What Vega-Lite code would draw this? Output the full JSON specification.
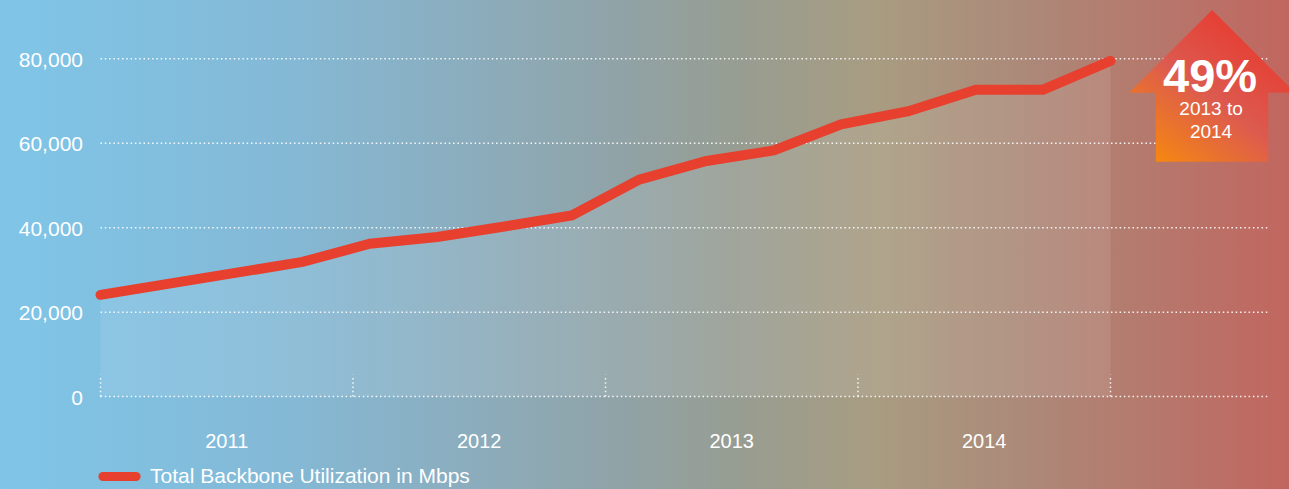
{
  "$schema": "https://vega.github.io/schema/vega-lite/v6.json",
  "width": 1289,
  "height": 489,
  "autosize": "none",
  "padding": 0,
  "background": "#a39c8c",
  "config": {
    "font": "Liberation Sans",
    "view": {
      "stroke": null,
      "fill": {
        "gradient": "linear", "x1": 0, "y1": 0, "x2": 1, "y2": 0,
        "stops": [
          {"offset": 0, "color": "#7fc5e8"},
          {"offset": 0.22, "color": "#84b9d6"},
          {"offset": 0.36, "color": "#8badbe"},
          {"offset": 0.48, "color": "#90a3a7"},
          {"offset": 0.57, "color": "#979d92"},
          {"offset": 0.68, "color": "#a89c81"},
          {"offset": 0.8, "color": "#ac8878"},
          {"offset": 1, "color": "#c1665f"}
        ]
      }
    }
  },
  "datasets": {
    "usage": [
      {"i": 0, "period": "2011 Q1", "mbps": 24100},
      {"i": 1, "period": "2011 Q2", "mbps": 26700},
      {"i": 2, "period": "2011 Q3", "mbps": 29300},
      {"i": 3, "period": "2011 Q4", "mbps": 31900},
      {"i": 4, "period": "2012 Q1", "mbps": 36200},
      {"i": 5, "period": "2012 Q2", "mbps": 37800},
      {"i": 6, "period": "2012 Q3", "mbps": 40300},
      {"i": 7, "period": "2012 Q4", "mbps": 42900},
      {"i": 8, "period": "2013 Q1", "mbps": 51400},
      {"i": 9, "period": "2013 Q2", "mbps": 55800},
      {"i": 10, "period": "2013 Q3", "mbps": 58300},
      {"i": 11, "period": "2013 Q4", "mbps": 64500},
      {"i": 12, "period": "2014 Q1", "mbps": 67600},
      {"i": 13, "period": "2014 Q2", "mbps": 72700},
      {"i": 14, "period": "2014 Q3", "mbps": 72700},
      {"i": 15, "period": "2014 Q4", "mbps": 79500}
    ],
    "grid": [{"v": 0}, {"v": 20000}, {"v": 40000}, {"v": 60000}, {"v": 80000}],
    "yearEdges": [{"i": 0}, {"i": 3.75}, {"i": 7.5}, {"i": 11.25}, {"i": 15}],
    "years": [
      {"year": "2011", "mid": 1.875},
      {"year": "2012", "mid": 5.625},
      {"year": "2013", "mid": 9.375},
      {"year": "2014", "mid": 13.125}
    ],
    "badge": [{"headline": "49%", "sub": "2013 to", "sub2": "2014"}]
  },
  "layer": [
    {
      "data": {"name": "usage"},
      "mark": {"type": "area", "fill": "#ffffff", "fillOpacity": 0.09},
      "encoding": {
        "x": {"field": "i", "type": "quantitative", "scale": {"domain": [-1.4926, 17.651], "nice": false, "zero": false}, "axis": null},
        "y": {"field": "mbps", "type": "quantitative", "scale": {"domain": [-21885, 93935], "nice": false, "zero": false}, "axis": null},
        "y2": {"datum": 0}
      }
    },
    {
      "data": {"name": "grid"},
      "mark": {"type": "rule", "stroke": "#ffffff", "strokeWidth": 1.5, "strokeDash": [1.5, 2.8], "opacity": 0.9},
      "encoding": {
        "y": {"field": "v", "type": "quantitative", "axis": null},
        "x": {"datum": 0, "type": "quantitative", "axis": null},
        "x2": {"datum": 17.33}
      }
    },
    {
      "data": {"name": "grid"},
      "mark": {"type": "text", "fontSize": 21, "fill": "#ffffff", "align": "right", "baseline": "alphabetic", "dy": 8},
      "encoding": {
        "y": {"field": "v", "type": "quantitative", "axis": null},
        "x": {"datum": -0.26, "type": "quantitative", "axis": null},
        "text": {"field": "v", "type": "quantitative", "format": ","}
      }
    },
    {
      "data": {"name": "yearEdges"},
      "mark": {"type": "rule", "stroke": "#ffffff", "strokeWidth": 1.5, "strokeDash": [1.5, 2.8], "opacity": 0.9},
      "encoding": {
        "x": {"field": "i", "type": "quantitative", "axis": null},
        "y": {"datum": 0, "type": "quantitative", "axis": null},
        "y2": {"datum": 5200}
      }
    },
    {
      "data": {"name": "years"},
      "mark": {"type": "text", "fontSize": 20, "fill": "#ffffff", "align": "center", "baseline": "alphabetic"},
      "encoding": {
        "x": {"field": "mid", "type": "quantitative", "axis": null},
        "y": {"datum": -12170, "type": "quantitative", "axis": null},
        "text": {"field": "year"}
      }
    },
    {
      "data": {"name": "usage"},
      "mark": {"type": "line", "strokeWidth": 10, "strokeCap": "round", "strokeJoin": "miter"},
      "encoding": {
        "x": {"field": "i", "type": "quantitative", "axis": null},
        "y": {"field": "mbps", "type": "quantitative", "axis": null},
        "color": {
          "datum": "Total Backbone Utilization in Mbps", "type": "nominal",
          "scale": {"range": ["#e8402f"]},
          "legend": {
            "title": null, "orient": "none", "legendX": 98, "legendY": 455,
            "symbolType": "stroke", "symbolSize": 1100, "symbolStrokeWidth": 9,
            "labelFontSize": 21, "labelColor": "#ffffff", "labelFont": "Liberation Sans",
            "labelOffset": 9, "labelLimit": 0, "padding": 0,
            "encode": {"symbols": {"update": {"strokeCap": {"value": "round"}}}}
          }
        }
      }
    },
    {
      "data": {"name": "badge"},
      "mark": {
        "type": "point", "filled": true, "opacity": 1, "size": 27556, "strokeWidth": 0,
        "shape": "M0,-0.916L1,0.081L0.678,0.081L0.678,0.912L-0.678,0.912L-0.678,0.081L-1,0.081Z",
        "fill": {
          "gradient": "linear", "x1": 0.15, "y1": 1, "x2": 0.85, "y2": 0.15,
          "stops": [
            {"offset": 0, "color": "#f68810"},
            {"offset": 0.5, "color": "#dc5a4f"},
            {"offset": 1, "color": "#e8392e"}
          ]
        }
      },
      "encoding": {
        "x": {"datum": 16.508, "type": "quantitative", "axis": null},
        "y": {"datum": 73570, "type": "quantitative", "axis": null}
      }
    },
    {
      "data": {"name": "badge"},
      "mark": {"type": "text", "fontSize": 47, "fontWeight": "bold", "fill": "#ffffff", "align": "center", "baseline": "alphabetic", "dy": 6, "dx": -2},
      "encoding": {
        "text": {"field": "headline"},
        "x": {"datum": 16.508, "type": "quantitative", "axis": null},
        "y": {"datum": 73570, "type": "quantitative", "axis": null}
      }
    },
    {
      "data": {"name": "badge"},
      "mark": {"type": "text", "fontSize": 19, "fill": "#ffffff", "align": "center", "baseline": "alphabetic", "dy": 29, "dx": -1},
      "encoding": {
        "text": {"field": "sub"},
        "x": {"datum": 16.508, "type": "quantitative", "axis": null},
        "y": {"datum": 73570, "type": "quantitative", "axis": null}
      }
    },
    {
      "data": {"name": "badge"},
      "mark": {"type": "text", "fontSize": 19, "fill": "#ffffff", "align": "center", "baseline": "alphabetic", "dy": 52, "dx": -1},
      "encoding": {
        "text": {"field": "sub2"},
        "x": {"datum": 16.508, "type": "quantitative", "axis": null},
        "y": {"datum": 73570, "type": "quantitative", "axis": null}
      }
    }
  ]
}
